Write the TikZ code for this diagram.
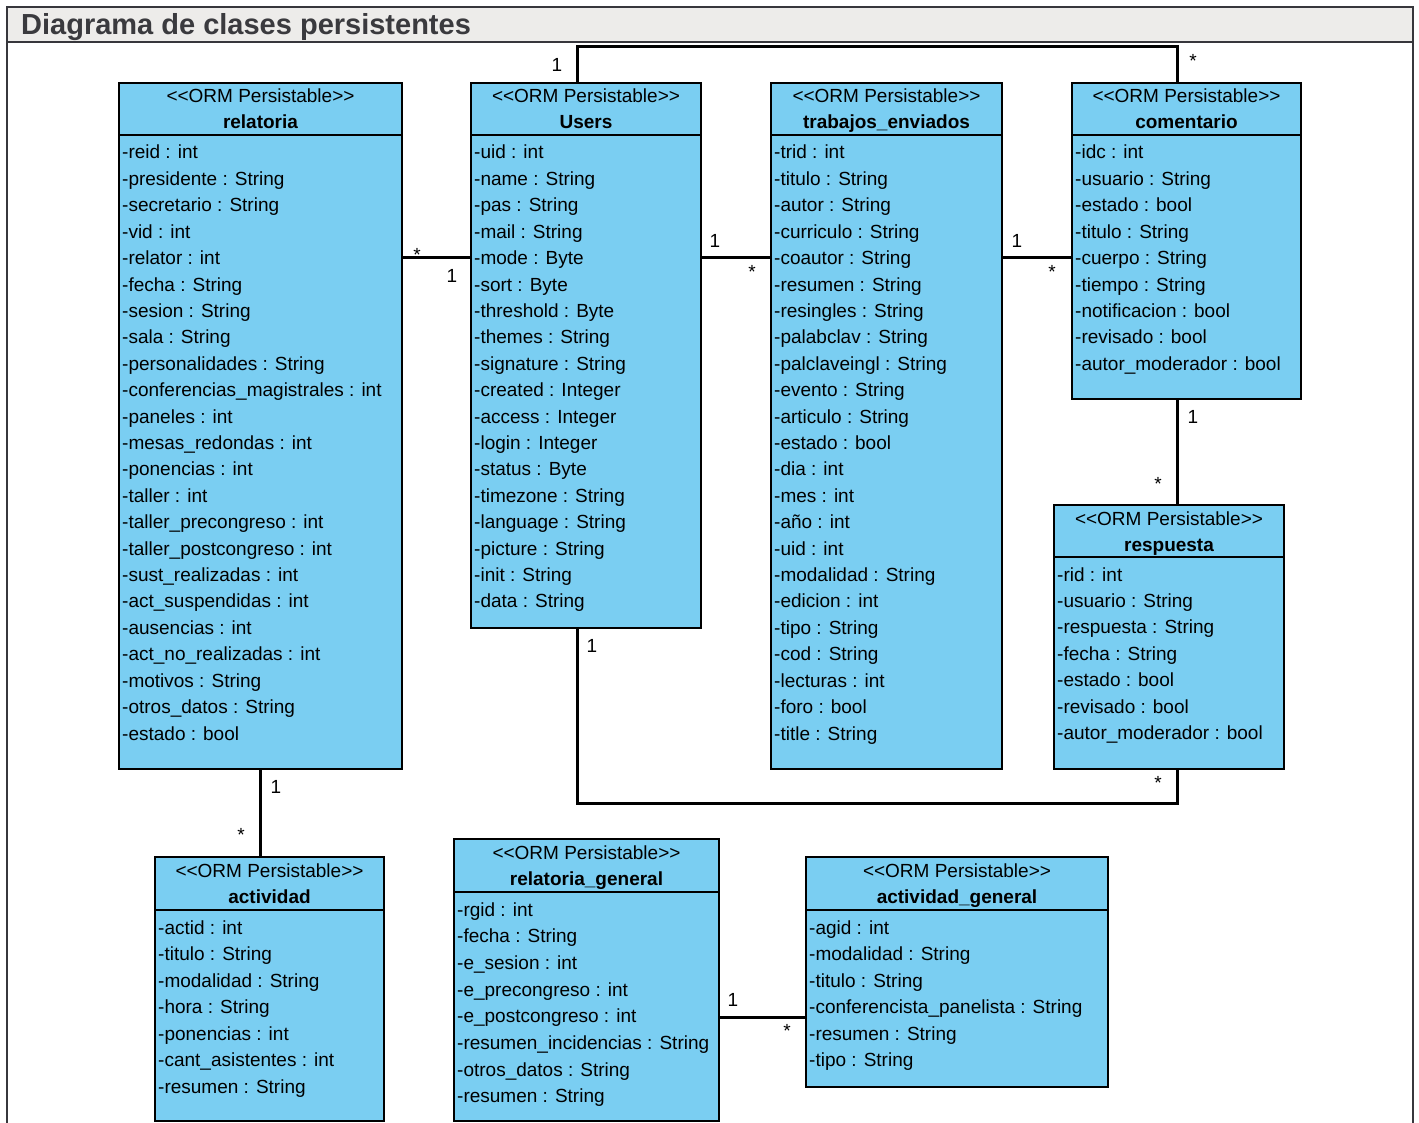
\documentclass[tikz,border=0pt]{standalone}
\usepackage{fontspec}
\setmainfont{Liberation Sans}
\definecolor{classfill}{RGB}{122,206,242}
\definecolor{framegray}{RGB}{55,55,60}
\definecolor{headfill}{RGB}{237,236,234}
\definecolor{titlegray}{RGB}{58,58,62}
\tikzset{
  classbox/.style={draw=black, line width=2.5pt, fill=classfill, rectangle, inner sep=0pt, outer sep=0pt},
  classline/.style={draw=black, line width=2.5pt},
  stereo/.style={anchor=base, inner sep=0pt, font=\fontsize{19}{22}\selectfont},
  cname/.style={anchor=base, inner sep=0pt, font=\fontsize{19}{22}\selectfont\bfseries},
  attr/.style={anchor=base west, inner sep=0pt, font=\fontsize{19}{22}\selectfont},
  assoc/.style={draw=black, line width=3pt},
  mult/.style={anchor=center, inner sep=0pt, font=\fontsize{19}{22}\selectfont},
  framebar/.style={draw=framegray, line width=2.5pt}
}
% #1 name, #2 left, #3 top, #4 right, #5 bottom, #6 divider, #7 title, #8 attributes, #9 row step
\newcommand\umlclass[9]{%
  \node[classbox, minimum width={(#4-#2)*1pt}, minimum height={(#5-#3)*1pt}] (#1) at ({(#2+#4)/2},{(#3+#5)/2}) {};
  \draw[classline] (#1.west |- 0,#6) -- (#1.east |- 0,#6);
  \node[stereo] (#1-st) at ({(#2+#4)/2},{#3+20}) {<\kern0pt<ORM Persistable>\kern0pt>};
  \node[cname] (#1-nm) at ({(#2+#4)/2},{#3+46}) {#7};
  \foreach \a [count=\i from 0] in {#8}
    \node[attr] (#1-a\i) at ({#2+3},{#6+24+\i*#9}) {\a};
}
\begin{document}
\begin{tikzpicture}[x=1pt,y=-1pt]
\useasboundingbox (0,0) rectangle (1419,1123);
\clip (0,0) rectangle (1419,1123);
\fill[white] (0,0) rectangle (1419,1123);

% frame with header band
\fill[headfill] (7,7) rectangle (1413,42);
\draw[framebar] (7,1140) -- (7,7) -- (1413,7) -- (1413,1140);
\draw[framebar] (7,42) -- (1413,42);
\node[anchor=base west, inner sep=0pt, text=titlegray, font=\fontsize{29}{32}\selectfont\bfseries] (title) at (21,35) {Diagrama de clases persistentes};

% classes
\umlclass{relatoria}{119}{83}{402}{769}{135}{relatoria}{%
-reid : int,-presidente : String,-secretario : String,-vid : int,-relator : int,-fecha : String,-sesion : String,-sala : String,-personalidades : String,-conferencias\_magistrales : int,-paneles : int,-mesas\_redondas : int,-ponencias : int,-taller : int,-taller\_precongreso : int,-taller\_postcongreso : int,-sust\_realizadas : int,-act\_suspendidas : int,-ausencias : int,-act\_no\_realizadas : int,-motivos : String,-otros\_datos : String,-estado : bool}{26.41}

\umlclass{users}{471}{83}{701}{628}{135}{Users}{%
-uid : int,-name : String,-pas : String,-mail : String,-mode : Byte,-sort : Byte,-threshold : Byte,-themes : String,-signature : String,-created : Integer,-access : Integer,-login : Integer,-status : Byte,-timezone : String,-language : String,-picture : String,-init : String,-data : String}{26.41}

\umlclass{trabajos}{771}{83}{1002}{769}{135}{trabajos\_enviados}{%
-trid : int,-titulo : String,-autor : String,-curriculo : String,-coautor : String,-resumen : String,-resingles : String,-palabclav : String,-palclaveingl : String,-evento : String,-articulo : String,-estado : bool,-dia : int,-mes : int,-año : int,-uid : int,-modalidad : String,-edicion : int,-tipo : String,-cod : String,-lecturas : int,-foro : bool,-title : String}{26.41}

\umlclass{comentario}{1072}{83}{1301}{399}{135}{comentario}{%
-idc : int,-usuario : String,-estado : bool,-titulo : String,-cuerpo : String,-tiempo : String,-notificacion : bool,-revisado : bool,-autor\_moderador : bool}{26.41}

\umlclass{respuesta}{1054}{505}{1284}{769}{557}{respuesta}{%
-rid : int,-usuario : String,-respuesta : String,-fecha : String,-estado : bool,-revisado : bool,-autor\_moderador : bool}{26.41}

\umlclass{actividad}{155}{857}{384}{1121}{910}{actividad}{%
-actid : int,-titulo : String,-modalidad : String,-hora : String,-ponencias : int,-cant\_asistentes : int,-resumen : String}{26.5}

\umlclass{relgeneral}{454}{839}{719}{1121}{892}{relatoria\_general}{%
-rgid : int,-fecha : String,-e\_sesion : int,-e\_precongreso : int,-e\_postcongreso : int,-resumen\_incidencias : String,-otros\_datos : String,-resumen : String}{26.7}

\umlclass{actgeneral}{806}{857}{1108}{1087}{910}{actividad\_general}{%
-agid : int,-modalidad : String,-titulo : String,-conferencista\_panelista : String,-resumen : String,-tipo : String}{26.5}

% associations
\coordinate (loopTop) at (0,47);
\coordinate (loopBot) at (0,803);
\draw[assoc] (relatoria.east |- 0,258) -- (users.west |- 0,258);
\draw[assoc] (users.east |- 0,258) -- (trabajos.west |- 0,258);
\draw[assoc] (trabajos.east |- 0,258) -- (comentario.west |- 0,258);
\draw[assoc] ([xshift=-8.5pt]users.north) -- ([xshift=-8.5pt]users.north |- loopTop) -- ([xshift=-9.5pt]comentario.north |- loopTop) -- ([xshift=-9.5pt]comentario.north);
\draw[assoc] ([xshift=-9.5pt]comentario.south) -- ([xshift=-9.5pt]comentario.south |- respuesta.north);
\draw[assoc] ([xshift=-8.5pt]users.south) -- ([xshift=-8.5pt]users.south |- loopBot) -- (loopBot -| 1177,0) -- (respuesta.south -| 1177,0);
\draw[assoc] (relatoria.south -| 260,0) -- (actividad.north -| 260,0);
\draw[assoc] (relgeneral.east |- 0,1017) -- (actgeneral.west |- 0,1017);

% multiplicities
\node[mult] (m1a) at (417,255) {*};
\node[mult] (m1b) at (452,276) {1};
\node[mult] (m2a) at (715,241) {1};
\node[mult] (m2b) at (752,272) {*};
\node[mult] (m3a) at (1017,241) {1};
\node[mult] (m3b) at (1052,272) {*};
\node[mult] (m4a) at (557,65) {1};
\node[mult] (m4b) at (1193,61) {*};
\node[mult] (m5a) at (1193,417) {1};
\node[mult] (m5b) at (1158,484) {*};
\node[mult] (m6a) at (592,646) {1};
\node[mult] (m6b) at (1158,783) {*};
\node[mult] (m7a) at (276,787) {1};
\node[mult] (m7b) at (241,835) {*};
\node[mult] (m8a) at (733,1000) {1};
\node[mult] (m8b) at (787,1031) {*};
\end{tikzpicture}
\end{document}
